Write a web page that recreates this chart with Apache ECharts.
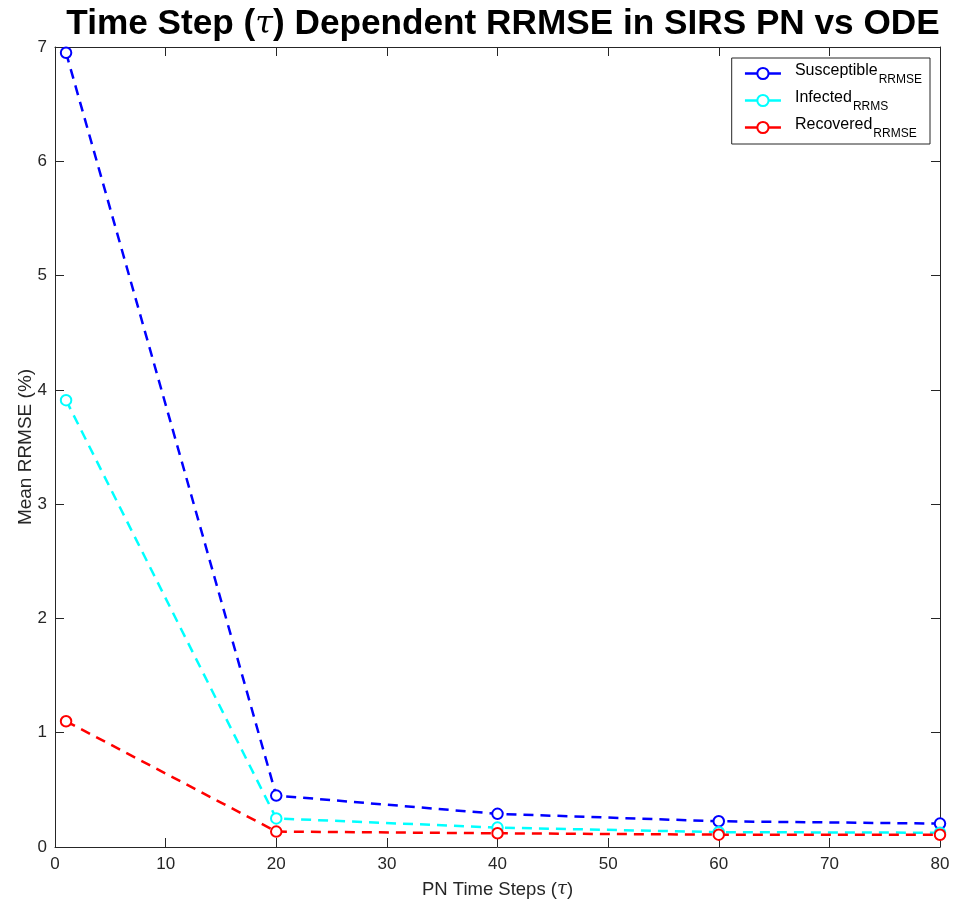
<!DOCTYPE html>
<html>
<head>
<meta charset="utf-8">
<script src="https://cdn.jsdelivr.net/npm/echarts@6/dist/echarts.min.js"></script>
<style>html,body{margin:0;padding:0;background:#fff}#c{width:955px;height:907px}</style>
</head>
<body>
<div id="c"></div>
<script>
var timeSteps = [1, 20, 40, 60, 80];
var susceptible = [6.95, 0.45, 0.29, 0.225, 0.205];
var infected = [3.91, 0.25, 0.17, 0.13, 0.125];
var recovered = [1.10, 0.135, 0.12, 0.108, 0.107];
var seriesNames = ['Susceptible', 'Infected', 'Recovered'];
var seriesSubs = ['RRMSE', 'RRMS', 'RRMSE'];
var seriesColors = ['#0000ff', '#00ffff', '#ff0000'];
var xTicks = {min: 0, max: 80, interval: 10};
var yTicks = {min: 0, max: 7, interval: 1};

var FONT = '"Liberation Sans", Arial, Helvetica, sans-serif';
var chart = echarts.init(document.getElementById('c'));
var allData = [susceptible, infected, recovered];

function pairs(vals) { return timeSteps.map(function (t, i) { return [t, vals[i]]; }); }

var series = allData.map(function (vals, k) {
  return {
    name: seriesNames[k],
    type: 'line',
    xAxisIndex: 0,
    yAxisIndex: 0,
    data: pairs(vals),
    symbol: 'emptyCircle',
    symbolSize: 10.5,
    showAllSymbol: true,
    itemStyle: {color: seriesColors[k], borderColor: seriesColors[k], borderWidth: 2.2},
    lineStyle: {color: seriesColors[k], width: 2.5, type: [10, 7]},
    z: 2 + k,
    animation: false
  };
});

function axisCommon() {
  return {
    axisLine: {show: true, onZero: false, lineStyle: {color: '#262626', width: 1}},
    axisTick: {show: true, inside: true, length: 9, lineStyle: {color: '#262626'}},
    splitLine: {show: false}
  };
}

chart.setOption({
  animation: false,
  backgroundColor: '#ffffff',
  title: {
    text: '{a|Time Step (}{t|τ}{a|) Dependent RRMSE in SIRS PN vs ODE}',
    left: 498,
    textAlign: 'center',
    top: 2,
    textStyle: {
      rich: {
        a: {fontFamily: FONT, fontWeight: 'bold', fontSize: 35.2, color: '#000'},
        t: {fontFamily: '"DejaVu Serif", serif', fontStyle: 'italic', fontWeight: 'normal', fontSize: 32, color: '#000'}
      }
    }
  },
  grid: {left: 55, right: 15, top: 47, bottom: 60, containLabel: false},
  legend: {
    right: 25,
    top: 58,
    orient: 'vertical',
    backgroundColor: '#fff',
    borderColor: '#262626',
    borderWidth: 1,
    borderRadius: 0,
    padding: [3, 8, 4, 12],
    itemGap: 2,
    itemWidth: 36,
    itemHeight: 14,
    data: seriesNames,
    lineStyle: {type: 'solid', width: 2.5},
    formatter: function (name) {
      var i = seriesNames.indexOf(name);
      return '{m|' + name + '}{s|' + seriesSubs[i] + '}';
    },
    textStyle: {
      rich: {
        m: {fontFamily: FONT, fontSize: 16, color: '#000', lineHeight: 16, padding: [2, 0, 7, 9]},
        s: {fontFamily: FONT, fontSize: 12, color: '#000', lineHeight: 12, padding: [13, 0, 0, 1]}
      }
    }
  },
  xAxis: [
    Object.assign({
      type: 'value', min: xTicks.min, max: xTicks.max, interval: xTicks.interval,
      position: 'bottom',
      name: '{a|PN Time Steps (}{t|τ}{a|)}',
      nameLocation: 'middle', nameGap: 33, nameMoveOverlap: false,
      nameTextStyle: {rich: {
        a: {fontFamily: FONT, fontSize: 18.5, color: '#262626'},
        t: {fontFamily: '"DejaVu Serif", serif', fontStyle: 'italic', fontSize: 18, color: '#262626'}
      }},
      axisLabel: {fontFamily: FONT, fontSize: 17, color: '#262626', margin: 9}
    }, axisCommon()),
    Object.assign({
      type: 'value', min: xTicks.min, max: xTicks.max, interval: xTicks.interval,
      position: 'top', axisLabel: {show: false}
    }, axisCommon())
  ],
  yAxis: [
    Object.assign({
      type: 'value', min: yTicks.min, max: yTicks.max, interval: yTicks.interval,
      position: 'left',
      name: 'Mean RRMSE (%)',
      nameLocation: 'middle', nameGap: 20, nameRotate: 90, nameMoveOverlap: false,
      nameTextStyle: {fontFamily: FONT, fontSize: 19, color: '#262626'},
      axisLabel: {fontFamily: FONT, fontSize: 17, color: '#262626', margin: 8}
    }, axisCommon()),
    Object.assign({
      type: 'value', min: yTicks.min, max: yTicks.max, interval: yTicks.interval,
      position: 'right', axisLabel: {show: false}
    }, axisCommon())
  ],
  series: series
});
</script>
</body>
</html>
